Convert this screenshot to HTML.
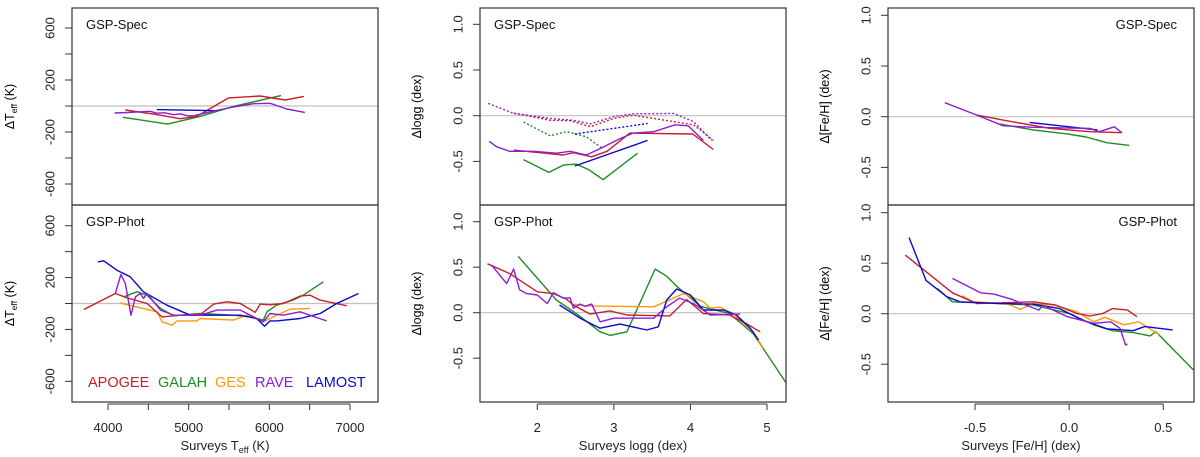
<!DOCTYPE html>
<html><head><meta charset="utf-8">
<style>
body{margin:0;background:#fff;}
svg{display:block;font-family:"Liberation Sans",Arial,sans-serif;}
</style></head>
<body>
<svg id="chart" width="1200" height="457" viewBox="0 0 1200 457" xmlns="http://www.w3.org/2000/svg"></svg>
<script>
// ---------- data (data units) ----------
const surveys = ["APOGEE","GALAH","GES","RAVE","LAMOST"];
const colors = {APOGEE:"#c81e2a",GALAH:"#228b22",GES:"#ff9a0a",RAVE:"#8a1fd6",LAMOST:"#0a0acc"};

const teffTicks = [4000,5000,6000,7000];
const teffYTicks = [600,200,-200,-600];
const loggTicks = [2,3,4,5];
const loggYTicks = [1.0,0.5,0.0,-0.5];
const fehTicks = [-0.5,0.0,0.5];
const fehYTicks = [1.0,0.5,0.0,-0.5];

// Teff, GSP-Spec
const specTeffAPOGEE = [[4215,-31],[4565,-62],[4895,-98],[5100,-80],[5495,62],[5885,77],[6195,46],[6430,74]];
const specTeffGALAH = [[4185,-87],[4740,-139],[5140,-80],[5555,-3],[6145,80]];
const specTeffRAVE = [[4080,-54],[4250,-50],[4400,-45],[4525,-41],[4600,-55],[4700,-52],[4815,-67],[4900,-60],[4980,-75],[5060,-75],[5300,-40],[5555,-8],[5805,18],[6010,21],[6215,-23],[6440,-49]];
const specTeffLAMOST = [[4605,-28],[5350,-36]];
// Teff, GSP-Phot
const photTeffAPOGEE = [[3700,-46],[4090,77],[4235,44],[4485,0],[4670,-103],[4895,-90],[5145,-85],[5310,-5],[5475,13],[5640,0],[5825,-69],[5885,-5],[6010,-10],[6175,0],[6380,57],[6505,64],[6630,26],[6960,-18]];
const photTeffGALAH = [[4195,51],[4360,90],[4485,64],[4650,-38],[4815,-95],[5145,-77],[5555,-90],[5760,-103],[5925,-128],[5970,-64],[6090,-13],[6295,26],[6420,64],[6670,167]];
const photTeffGES = [[4145,5],[4610,-64],[4670,-141],[4795,-167],[4855,-134],[5100,-134],[5145,-116],[5555,-128],[5720,-90],[5925,-141],[6050,-103],[6255,-44],[6505,-38]];
const photTeffRAVE = [[4090,77],[4160,224],[4215,154],[4285,-90],[4340,51],[4400,77],[4440,39],[4485,77],[4650,-51],[4815,-90],[5145,-90],[5350,-51],[5640,-51],[5925,-141],[6010,-77],[6175,-90],[6380,-64],[6710,-134]];
const photTeffLAMOST = [[3875,321],[3945,329],[4110,257],[4275,206],[4440,90],[4730,-13],[5020,-90],[5350,-90],[5640,-90],[5845,-116],[5940,-175],[6010,-134],[6090,-134],[6380,-116],[6630,-77],[6835,0],[7105,77]];

// logg, GSP-Spec (solid)
const specLoggAPOGEE = [[1.69,-0.376],[2.34,-0.43],[2.47,-0.405],[2.71,-0.45],[2.91,-0.39],[3.21,-0.19],[4.03,-0.2],[4.30,-0.37]];
const specLoggGALAH = [[1.82,-0.48],[2.15,-0.62],[2.34,-0.54],[2.51,-0.53],[2.67,-0.59],[2.86,-0.70],[3.31,-0.41]];
const specLoggRAVE = [[1.37,-0.28],[1.47,-0.34],[1.64,-0.39],[1.95,-0.39],[2.25,-0.41],[2.43,-0.39],[2.64,-0.43],[2.82,-0.36],[3.08,-0.25],[3.25,-0.19],[3.52,-0.175],[3.80,-0.10],[3.97,-0.11],[4.17,-0.27]];
const specLoggLAMOST = [[2.49,-0.55],[3.44,-0.27]];
// logg, GSP-Spec calibrated (dotted)
const specLoggCalAPOGEE = [[1.69,0.03],[2.17,-0.05],[2.43,-0.055],[2.69,-0.12],[3.0,-0.03],[3.25,0.005],[4.04,-0.10],[4.30,-0.27]];
const specLoggCalGALAH = [[1.82,-0.07],[2.17,-0.22],[2.38,-0.175],[2.64,-0.23],[2.82,-0.34],[2.86,-0.365]];
const specLoggCalRAVE = [[1.36,0.135],[1.69,0.025],[2.17,-0.03],[2.47,-0.05],[2.69,-0.09],[3.0,-0.01],[3.25,0.02],[3.78,0.025],[4.04,-0.065],[4.28,-0.27]];
const specLoggCalLAMOST = [[2.49,-0.2],[3.44,-0.085]];
// logg, GSP-Phot
const photLoggAPOGEE = [[1.35,0.537],[1.64,0.43],[2.0,0.23],[2.21,0.21],[2.38,0.15],[2.47,0.085],[2.69,-0.015],[2.95,0.02],[3.17,-0.025],[3.73,-0.035],[3.95,0.145],[4.17,-0.01],[4.51,-0.025],[4.73,-0.12],[4.91,-0.21]];
const photLoggGALAH = [[1.75,0.62],[2.25,0.14],[2.51,-0.01],[2.82,-0.21],[2.95,-0.25],[3.17,-0.21],[3.54,0.48],[3.69,0.40],[3.82,0.29],[4.13,0.07],[4.51,-0.01],[4.82,-0.23],[5.30,-0.835]];
const photLoggGES = [[2.47,0.095],[2.64,0.075],[3.52,0.065],[3.91,0.21],[4.17,0.12],[4.26,0.05],[4.39,0.06],[4.56,-0.01],[4.82,-0.21],[4.95,-0.39]];
const photLoggRAVE = [[1.40,0.525],[1.60,0.32],[1.69,0.48],[1.77,0.25],[1.86,0.21],[2.0,0.195],[2.13,0.10],[2.21,0.22],[2.34,0.16],[2.43,0.16],[2.47,0.05],[2.56,0.095],[2.62,0.07],[2.71,0.095],[2.82,-0.10],[3.0,-0.06],[3.25,-0.06],[3.52,-0.06],[3.69,0.065],[3.86,0.16],[4.04,0.10],[4.26,-0.025],[4.65,-0.015]];
const photLoggLAMOST = [[2.29,0.085],[2.56,-0.06],[2.82,-0.17],[3.08,-0.125],[3.43,-0.19],[3.58,-0.155],[3.69,0.14],[3.82,0.26],[4.0,0.195],[4.17,0.03],[4.43,0.03],[4.60,-0.025],[4.78,-0.17],[4.89,-0.30]];

// [Fe/H], GSP-Spec
const specFehAPOGEE = [[-0.49,0.016],[-0.33,-0.04],[-0.10,-0.115],[0.11,-0.148],[0.28,-0.158]];
const specFehGALAH = [[-0.37,-0.072],[-0.19,-0.13],[-0.01,-0.17],[0.09,-0.20],[0.20,-0.256],[0.32,-0.283]];
const specFehRAVE = [[-0.66,0.138],[-0.49,0.016],[-0.35,-0.09],[-0.19,-0.105],[0.11,-0.115],[0.16,-0.148],[0.24,-0.10],[0.28,-0.158]];
const specFehLAMOST = [[-0.21,-0.056],[0.15,-0.13]];
// [Fe/H], GSP-Phot
const photFehAPOGEE = [[-0.87,0.58],[-0.62,0.207],[-0.49,0.10],[-0.19,0.118],[-0.07,0.085],[0.04,0.003],[0.11,-0.023],[0.18,0.003],[0.23,0.05],[0.31,0.036],[0.36,-0.03]];
const photFehGALAH = [[-0.70,0.25],[-0.62,0.118],[-0.37,0.10],[-0.19,0.085],[0.0,0.003],[0.13,-0.11],[0.23,-0.168],[0.34,-0.187],[0.43,-0.22],[0.46,-0.178],[0.66,-0.556]];
const photFehGES = [[-0.57,0.178],[-0.51,0.118],[-0.33,0.10],[-0.26,0.043],[-0.19,0.10],[-0.08,0.085],[0.04,0.02],[0.13,-0.08],[0.19,-0.036],[0.29,-0.11],[0.37,-0.08],[0.48,-0.21]];
const photFehRAVE = [[-0.62,0.35],[-0.47,0.207],[-0.40,0.194],[-0.30,0.14],[-0.23,0.085],[-0.16,0.036],[-0.14,0.085],[-0.01,-0.03],[0.13,-0.095],[0.22,-0.08],[0.27,-0.145],[0.30,-0.31],[0.31,-0.30]];
const photFehLAMOST = [[-0.85,0.753],[-0.76,0.33],[-0.65,0.168],[-0.58,0.118],[-0.37,0.10],[-0.19,0.095],[-0.05,0.05],[0.07,-0.063],[0.20,-0.15],[0.34,-0.168],[0.40,-0.128],[0.55,-0.16]];

// ---------- rendering ----------
const NS="http://www.w3.org/2000/svg";
const svg=document.getElementById('chart');
function mk(tag,attrs,parent){const e=document.createElementNS(NS,tag);for(const k in attrs)e.setAttribute(k,attrs[k]);(parent||svg).appendChild(e);return e;}
function lin(d0,d1,p0,p1){return v=>p0+(v-d0)*(p1-p0)/(d1-d0);}

const cols=[
 {key:"teff",x0:72,x1:378,sx:lin(4000,7000,108,350),xt:teffTicks,xminor:[4500,5500,6500],xfmt:v=>String(v),
  yt:teffYTicks,yminor:[400,0,-400],yfmt:v=>String(v),
  syTop:lin(0,600,106,28),syBot:lin(0,600,303.5,225.7),labX:14,lblAnchor:"start",lblX:86},
 {key:"logg",x0:480,x1:786,sx:lin(2,5,537.3,767),xt:loggTicks,xminor:[],xfmt:v=>String(v),
  yt:loggYTicks,yminor:[],yfmt:v=>v.toFixed(1),
  syTop:lin(0,1,115.7,24.3),syBot:lin(0,1,312.7,221.7),labX:421,lblAnchor:"start",lblX:494},
 {key:"feh",x0:888,x1:1194,sx:lin(-0.5,0.5,975,1163.3),xt:fehTicks,xminor:[],xfmt:v=>v.toFixed(1),
  yt:fehYTicks,yminor:[],yfmt:v=>v.toFixed(1),
  syTop:lin(0,1,116.7,15.3),syBot:lin(0,1,313.7,212.7),labX:829,lblAnchor:"end",lblX:1177}
];
const rows=[{y0:8,y1:205,name:"GSP-Spec",sy:"syTop"},{y0:205,y1:402,name:"GSP-Phot",sy:"syBot"}];

const seriesMap={
 teff:[{APOGEE:specTeffAPOGEE,GALAH:specTeffGALAH,RAVE:specTeffRAVE,LAMOST:specTeffLAMOST},
       {APOGEE:photTeffAPOGEE,GALAH:photTeffGALAH,GES:photTeffGES,RAVE:photTeffRAVE,LAMOST:photTeffLAMOST}],
 logg:[{APOGEE:specLoggAPOGEE,GALAH:specLoggGALAH,RAVE:specLoggRAVE,LAMOST:specLoggLAMOST},
       {APOGEE:photLoggAPOGEE,GALAH:photLoggGALAH,GES:photLoggGES,RAVE:photLoggRAVE,LAMOST:photLoggLAMOST}],
 feh:[{APOGEE:specFehAPOGEE,GALAH:specFehGALAH,RAVE:specFehRAVE,LAMOST:specFehLAMOST},
      {APOGEE:photFehAPOGEE,GALAH:photFehGALAH,GES:photFehGES,RAVE:photFehRAVE,LAMOST:photFehLAMOST}]
};
const dottedLogg={APOGEE:specLoggCalAPOGEE,GALAH:specLoggCalGALAH,RAVE:specLoggCalRAVE,LAMOST:specLoggCalLAMOST};

function yTitle(g,c,cy){
  const t=mk('text',{x:c.labX,y:cy,'font-size':12.5,'text-anchor':'middle',transform:`rotate(-90 ${c.labX} ${cy})`,fill:'#000'},g);
  
  
  if(c.key==="teff"){t.innerHTML='ΔT<tspan font-size="8.5" dy="3">eff</tspan><tspan dy="-3"> (K)</tspan>';}
  else if(c.key==="logg"){t.textContent='Δlogg (dex)';}
  else {t.textContent='Δ[Fe/H] (dex)';}
}
function path(g,pts,sx,sy,color,dash,name){
  const d=pts.map((p,i)=>(i?'L':'M')+sx(p[0]).toFixed(1)+','+sy(p[1]).toFixed(1)).join(' ');
  const p=mk('path',{d:d,fill:'none',stroke:color,'stroke-width':1.4,'stroke-linejoin':'round'},g);
  if(dash)p.setAttribute('stroke-dasharray',dash);
  
  
}

cols.forEach((c,ci)=>{
  rows.forEach((r,ri)=>{
    const g=mk('g',{});
    
    
    const sy=c[r.sy];
    const clipId=`clip-${ci}-${ri}`;
    const cp=mk('clipPath',{id:clipId},g);mk('rect',{x:c.x0,y:r.y0,width:c.x1-c.x0,height:r.y1-r.y0},cp);
    const zl=mk('line',{x1:c.x0,x2:c.x1,y1:sy(0),y2:sy(0),stroke:'#c0c0c0','stroke-width':1.2},g);
    
    
    const lg=mk('g',{'clip-path':`url(#${clipId})`},g);
    if(c.key==="logg"&&ri===0){
      ["APOGEE","GALAH","RAVE","LAMOST"].forEach(s=>path(lg,dottedLogg[s],c.sx,sy,colors[s],'2,2',`${s.toLowerCase()}-calibrated-line`));
    }
    const sm=seriesMap[c.key][ri];
    ["GALAH","GES","APOGEE","LAMOST","RAVE"].forEach(s=>{if(sm[s])path(lg,sm[s],c.sx,sy,colors[s],null,`${s.toLowerCase()}-line`);});
    const fr=mk('rect',{x:c.x0,y:r.y0,width:c.x1-c.x0,height:r.y1-r.y0,fill:'none',stroke:'#333','stroke-width':1.2},g);
    
    
    c.yt.concat(c.yminor).forEach(v=>{mk('line',{x1:c.x0-7,x2:c.x0,y1:sy(v),y2:sy(v),stroke:'#333','stroke-width':1},g);});
    mk('line',{x1:c.x0,x2:c.x0,y1:sy(c.yt[0]),y2:sy(c.yt[c.yt.length-1]),stroke:'#333','stroke-width':1},g);
    c.yt.forEach(v=>{
      const tx=c.x0-22,ty=sy(v);
      const t=mk('text',{x:tx,y:ty,'font-size':13,'text-anchor':'middle','dominant-baseline':'central',transform:`rotate(-90 ${tx} ${ty})`,fill:'#222'},g);
      t.textContent=c.yfmt(v);
      
      
    });
    yTitle(g,c,(r.y0+r.y1)/2);
    const pl=mk('text',{x:c.lblX,y:r.y0+21,'font-size':13,'text-anchor':c.lblAnchor,fill:'#111'},g);
    pl.textContent=r.name;
    
    
  });
  const xa=mk('g',{});
  
  
  const all=c.xt.concat(c.xminor);
  const xs=all.map(c.sx);
  mk('line',{x1:Math.max(c.x0,Math.min(...xs)),x2:Math.max(...xs),y1:404,y2:404,stroke:'#333','stroke-width':1},xa);
  all.forEach(v=>mk('line',{x1:c.sx(v),x2:c.sx(v),y1:404,y2:410,stroke:'#333','stroke-width':1},xa));
  c.xt.forEach(v=>{
    const t=mk('text',{x:c.sx(v),y:432,'font-size':13,'text-anchor':'middle',fill:'#222'},xa);
    t.textContent=c.xfmt(v);
    
    
  });
  const tt=mk('text',{x:(c.x0+c.x1)/2+(ci===2?-20:0),y:450,'font-size':13,'text-anchor':'middle',fill:'#222'},xa);
  
  
  if(c.key==="teff")tt.innerHTML='Surveys T<tspan font-size="9" dy="3">eff</tspan><tspan dy="-3"> (K)</tspan>';
  else if(c.key==="logg")tt.textContent='Surveys logg (dex)';
  else tt.textContent='Surveys [Fe/H] (dex)';
});

const legX=[88,158,215,255,306];
const lg=mk('g',{});


surveys.forEach((s,i)=>{
  const t=mk('text',{x:legX[i],y:387,'font-size':14.5,fill:colors[s]},lg);
  t.textContent=s;
  
  
});
</script>
</body></html>
